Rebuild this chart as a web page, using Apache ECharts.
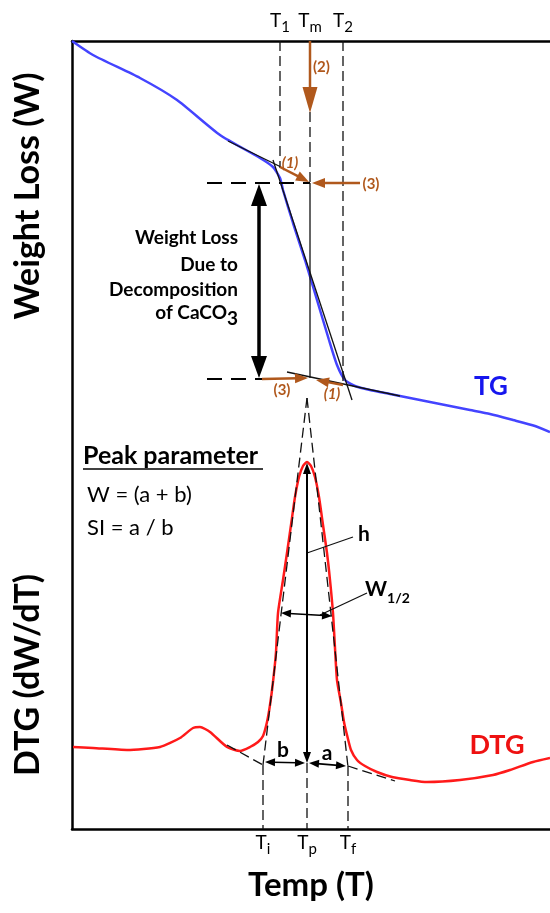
<!DOCTYPE html>
<html lang="en">
<head>
<meta charset="UTF-8">
<title>TG / DTG</title>
<script src="https://cdn.jsdelivr.net/npm/echarts@6/dist/echarts.min.js"></script>
<style>
    * { margin: 0; padding: 0; }
    html, body { width: 100%; height: 100%; overflow: hidden; background: #fff; }
    .chart { width: 550px; height: 913px; }
</style>
</head>
<body>
<div class="chart"></div>
<script>
    // schematic units: temperature 0..478 across the box, signal 0..788 from bottom to top
    let tgTemp = [0, 21, 68, 105, 148, 188, 201, 208, 211, 221, 233, 245, 257, 265, 273, 283, 298, 318, 338, 358, 378, 398, 418, 441, 463, 478];
    let tgWeight = [788, 774, 751, 729, 694, 671, 662, 651, 639, 606, 569, 529, 489, 464, 449, 443, 439, 435, 431, 427, 423, 419, 415, 409, 403, 397];

    let dtgTemp = [1, 21, 55, 88, 108, 121, 128, 138, 155, 168, 178, 186, 191, 195, 198, 201, 204, 206, 211, 215, 219, 223, 227, 231, 235, 239, 243, 247, 251, 255, 258, 261, 263, 265, 269, 272, 275, 279, 285, 293, 305, 320, 338, 355, 388, 421, 438, 461, 478];
    let dtgRate = [82, 81, 79, 82, 91, 101, 102, 97, 82, 78, 82, 87, 93, 107, 124, 147, 177, 216, 249, 276, 304, 332, 352, 363, 367, 363, 352, 332, 304, 276, 249, 216, 181, 149, 126, 107, 94, 79, 69, 63, 57, 52, 49, 47, 49, 54, 59, 67, 71];

    // characteristic temperatures
    let topTicks = [208, 238, 271];
    let topTickSubs = ['1', 'm', '2'];
    let bottomTicks = [191, 235, 276];
    let bottomTickSubs = ['i', 'p', 'f'];

    // construction lines [x1, y1, x2, y2]
    let thinDashed = [
        [208, 788, 208, 661], [271, 788, 271, 444], [238, 717, 238, 646],
        [191, 64, 191, 0], [235, 66, 235, 0], [276, 63, 276, 0],
        [235, 431, 191, 64], [235, 431, 276, 62],
        [155, 84, 191, 64], [276, 63, 323, 48]
    ];
    let thickDashed = [[135, 646, 238, 646], [135, 450, 190, 450]];
    let thinSolid = [
        [238, 646, 238, 451], [156, 688, 209, 662], [201, 669, 280, 429], [215, 457, 328, 433],
        [235, 276, 281, 292], [248, 214, 295, 236]
    ];
    let underline = [[11, 360, 191, 360]];
    let brownArrows = [[208, 662, 237, 647], [288, 646, 240, 646], [190, 450, 236, 451], [271, 444, 244, 449]];
    let brownBigArrow = [[238, 788, 238, 716]];
    let bigDoubleArrow = [[187, 645, 187, 451]];
    let smallDoubleArrows = [[193, 67, 233, 66], [237, 66, 274, 63], [209, 216, 260, 213]];
    let heightArrow = [[235, 66, 235, 366]];

    // text notes
    let notes = [
        {pos: [11, 373], text: 'Peak parameter', kind: 'head'},
        {pos: [15, 334], text: 'W = (a + b)', kind: 'formula'},
        {pos: [15, 301], text: 'SI = a / b', kind: 'formula'},
        {pos: [166, 591], text: 'Weight Loss', kind: 'loss'},
        {pos: [166, 564], text: 'Due to', kind: 'loss'},
        {pos: [166, 539], text: 'Decomposition', kind: 'loss'},
        {pos: [166, 513], text: '{l|of CaCO}{c|3}', kind: 'loss'},
        {pos: [241, 762], text: '(2)', kind: 'step'},
        {pos: [218, 666], text: '(1)', kind: 'stepIt'},
        {pos: [299, 645], text: '(3)', kind: 'stepC'},
        {pos: [210, 439], text: '(3)', kind: 'stepC'},
        {pos: [260, 435], text: '(1)', kind: 'stepIt'},
        {pos: [292, 295], text: 'h', kind: 'sym'},
        {pos: [293, 237], text: '{w|W}{s|1/2}', kind: 'symL'},
        {pos: [211, 79], text: 'b', kind: 'sym'},
        {pos: [255, 76], text: 'a', kind: 'sym'},
        {pos: [419, 442], text: 'TG', kind: 'tg'},
        {pos: [425, 84], text: 'DTG', kind: 'dtg'}
    ];

    let font = 'Lato';
    let brown = '#b0581c';
    let noteStyles = {
        head: {fontSize: 25, fontWeight: 'bold', align: 'left'},
        formula: {fontSize: 22, align: 'left'},
        loss: {fontSize: 19, fontWeight: 'bold', align: 'right'},
        step: {fontSize: 15, fontWeight: 'bold', color: brown, align: 'left'},
        stepIt: {fontSize: 15, fontWeight: 'bold', fontStyle: 'italic', color: brown, align: 'center'},
        stepC: {fontSize: 15, fontWeight: 'bold', color: brown, align: 'center'},
        sym: {fontSize: 21, fontWeight: 'bold', align: 'center'},
        symL: {fontSize: 21, fontWeight: 'bold', align: 'left'},
        tg: {fontSize: 26, fontWeight: 'bold', color: '#1616ee', align: 'center'},
        dtg: {fontSize: 27, fontWeight: 'bold', color: '#ee1111', align: 'center'}
    };
    let richText = {
        s: {fontFamily: font, fontSize: 14, fontWeight: 'bold', verticalAlign: 'bottom', color: '#000'},
        w: {fontFamily: font, fontSize: 21, fontWeight: 'bold', verticalAlign: 'bottom', padding: [0, 0, 5, 0], color: '#000'},
        l: {fontFamily: font, fontSize: 19, fontWeight: 'bold', verticalAlign: 'bottom', padding: [0, 0, 6, 0], color: '#000'},
        c: {fontFamily: font, fontSize: 19, fontWeight: 'bold', verticalAlign: 'bottom', color: '#000'}
    };

    function zip(xs, ys) {
        return xs.map((x, i) => [x, ys[i]]);
    }

    function segSeries(segs, opt) {
        return {
            type: 'custom',
            coordinateSystem: 'cartesian2d',
            data: segs,
            silent: true,
            z: opt.z || 3,
            renderItem: function (params, api) {
                let a = api.coord([api.value(0), api.value(1)]);
                let b = api.coord([api.value(2), api.value(3)]);
                let dx = b[0] - a[0], dy = b[1] - a[1];
                let len = Math.sqrt(dx * dx + dy * dy) || 1;
                let ux = dx / len, uy = dy / len;
                let hl = opt.headLen || 0, hw = opt.headWidth || 0;
                let s = a.slice(), e = b.slice();
                let children = [];
                let head = function (tip, dx, dy) {
                    let bx = tip[0] - dx * hl, by = tip[1] - dy * hl;
                    return {
                        type: 'polygon',
                        shape: {points: [tip, [bx - dy * hw / 2, by + dx * hw / 2], [bx + dy * hw / 2, by - dx * hw / 2]]},
                        style: {fill: opt.color}
                    };
                };
                if (opt.end) {
                    children.push(head(b, ux, uy));
                    e = [b[0] - ux * hl * 0.8, b[1] - uy * hl * 0.8];
                }
                if (opt.start) {
                    children.push(head(a, -ux, -uy));
                    s = [a[0] + ux * hl * 0.8, a[1] + uy * hl * 0.8];
                }
                children.unshift({
                    type: 'line',
                    shape: {x1: s[0], y1: s[1], x2: e[0], y2: e[1]},
                    style: {stroke: opt.color, lineWidth: opt.width, lineDash: opt.dash || null, fill: null}
                });
                return {type: 'group', children: children};
            }
        };
    }

    function tickLabel(values, subs) {
        return function (v) {
            let i = values.indexOf(v);
            return i < 0 ? '' : '{t|T}{s|' + subs[i] + '}';
        };
    }
    let tickRich = {
        t: {fontFamily: font, fontSize: 19, verticalAlign: 'bottom', padding: [0, 0, 5, 0], color: '#000'},
        s: {fontFamily: font, fontSize: 15, verticalAlign: 'bottom', color: '#000'}
    };

    let chart = echarts.init(document.querySelector('.chart'));

    let option = {
        animation: false,
        backgroundColor: '#fff',
        grid: {left: 72, top: 41, width: 478, height: 788, outerBoundsMode: 'none'},
        xAxis: [{
            type: 'value', position: 'bottom', min: 0, max: 478,
            axisLine: {onZero: false, lineStyle: {color: '#000', width: 2.5}},
            axisTick: {show: false}, splitLine: {show: false},
            axisLabel: {customValues: bottomTicks, formatter: tickLabel(bottomTicks, bottomTickSubs), rich: tickRich, margin: 4},
            name: 'Temp (T)', nameLocation: 'middle', nameGap: 40,
            nameTextStyle: {fontFamily: font, fontSize: 33, fontWeight: 'bold', color: '#000'}
        }, {
            type: 'value', position: 'top', min: 0, max: 478,
            axisLine: {onZero: false, lineStyle: {color: '#000', width: 2.5}},
            axisTick: {show: false}, splitLine: {show: false},
            axisLabel: {customValues: topTicks, formatter: tickLabel(topTicks, topTickSubs), rich: tickRich, margin: 6}
        }],
        yAxis: {
            type: 'value', min: 0, max: 788,
            axisLine: {show: true, onZero: false, lineStyle: {color: '#000', width: 2.5}},
            axisTick: {show: false}, axisLabel: {show: false}, splitLine: {show: false}
        },
        graphic: [
            {type: 'text', x: 28, y: 196, rotation: Math.PI / 2,
                style: {text: 'Weight Loss (W)', font: 'bold 34px Lato', fill: '#000', align: 'center', verticalAlign: 'middle'}},
            {type: 'text', x: 28, y: 675, rotation: Math.PI / 2,
                style: {text: 'DTG (dW/dT)', font: 'bold 34px Lato', fill: '#000', align: 'center', verticalAlign: 'middle'}}
        ],
        series: [
            {
                name: 'TG', type: 'line', data: zip(tgTemp, tgWeight), smooth: 0.2,
                showSymbol: false, z: 2, lineStyle: {color: '#4444ff', width: 2.5}
            },
            {
                name: 'DTG', type: 'line', data: zip(dtgTemp, dtgRate), smooth: 0.2,
                showSymbol: false, z: 2, lineStyle: {color: '#ff1a1a', width: 2.5}
            },
            segSeries(thinDashed, {color: '#111', width: 1.3, dash: [10, 5]}),
            segSeries(thickDashed, {color: '#000', width: 2.2, dash: [15, 9]}),
            segSeries(thinSolid, {color: '#111', width: 1.3}),
            segSeries(underline, {color: '#000', width: 1.6}),
            segSeries(brownArrows, {color: brown, width: 2.5, end: true, headLen: 13, headWidth: 10, z: 4}),
            segSeries(brownBigArrow, {color: brown, width: 2.5, end: true, headLen: 26, headWidth: 15, z: 4}),
            segSeries(bigDoubleArrow, {color: '#000', width: 3.5, start: true, end: true, headLen: 22, headWidth: 16}),
            segSeries(smallDoubleArrows, {color: '#000', width: 1.6, start: true, end: true, headLen: 10, headWidth: 8}),
            segSeries(heightArrow, {color: '#000', width: 2, start: true, end: true, headLen: 11, headWidth: 8}),
            {
                type: 'scatter', symbolSize: 0, clip: false, silent: true, z: 5,
                itemStyle: {opacity: 1},
                data: notes.map(n => ({
                    value: n.pos,
                    label: Object.assign({
                        show: true, position: 'inside', formatter: n.text, fontFamily: font,
                        color: '#000', verticalAlign: 'middle', rich: richText
                    }, noteStyles[n.kind])
                }))
            }
        ]
    };
    chart.setOption(option);
</script>
</body>
</html>
